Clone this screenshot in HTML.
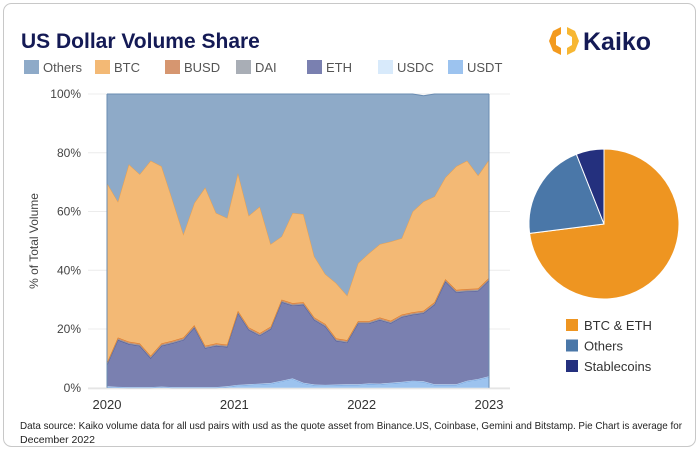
<!DOCTYPE html>
<html><head><meta charset="utf-8"><style>
body{margin:0;background:#fff;font-family:"Liberation Sans",sans-serif;}
#wrap{position:relative;width:700px;height:451px;overflow:hidden;}
</style></head><body>
<div id="wrap">
<svg id="svg" width="700" height="451" xmlns="http://www.w3.org/2000/svg">
<rect x="3.5" y="3.5" width="692" height="443" rx="8" fill="#fff" stroke="#c8c8c8" stroke-width="1"/>
<text x="21" y="48" font-size="21" font-weight="bold" fill="#141a55">US Dollar Volume Share</text>
<g>
<path d="M553 31 L561 27 L561 34 L556 37 L556 45 L561 48 L561 55 L553 51 L549 41 Z" fill="#f39a1e"/>
<path d="M567 27 L575 31 L579 41 L575 51 L567 55 L567 48 L572 45 L572 37 L567 34 Z" fill="#f7b733"/>
<text x="583" y="50" font-size="25" font-weight="bold" fill="#141a55">Kaiko</text>
</g>
<g id="legend"></g>
<g id="grid"></g>
<g id="areas"></g>
<g id="axes"></g>
<g id="pie"></g>
<text x="20" y="429" font-size="10.5" fill="#222" textLength="662" lengthAdjust="spacingAndGlyphs">Data source: Kaiko volume data for all usd pairs with usd as the quote asset from Binance.US, Coinbase, Gemini and Bitstamp. Pie Chart is average for</text>
<text x="20" y="443" font-size="10.5" fill="#222" textLength="75" lengthAdjust="spacingAndGlyphs">December 2022</text>
</svg>
</div>
<script>
const usdt=[0.3,0.1,0,0,0,0.2,0,0,0,0,0,0.3,0.8,1.0,1.2,1.4,2.2,3.0,1.5,0.9,0.8,0.9,1.0,1.0,1.3,1.2,1.5,1.8,2.2,2.0,1.0,1.0,1.0,2.2,2.8,3.7];
const usdc=[0.2,0.2,0.2,0.2,0.2,0.2,0.2,0.2,0.2,0.2,0.2,0.2,0.2,0.2,0.2,0.2,0.2,0.2,0.2,0.2,0.2,0.2,0.2,0.2,0.2,0.2,0.2,0.2,0.2,0.2,0.2,0.2,0.2,0.2,0.2,0.2];
const eth=[7.3,16.0,14.7,14.1,9.9,13.9,15.0,16.1,20.3,13.3,14.1,13.4,24.4,18.5,16.4,18.4,26.8,24.8,26.6,22.0,19.9,14.9,14.2,20.7,20.4,21.7,20.3,22.1,22.5,23.2,27.1,35.0,31.3,30.4,30.0,32.7];
const dai=[0.3,0.3,0.3,0.3,0.3,0.3,0.3,0.3,0.3,0.3,0.3,0.3,0.3,0.3,0.3,0.3,0.3,0.3,0.3,0.3,0.3,0.3,0.3,0.3,0.3,0.3,0.3,0.3,0.3,0.3,0.3,0.3,0.3,0.3,0.3,0.3];
const busd=[0.5,0.5,0.5,0.5,0.5,0.5,0.5,0.5,0.5,0.5,0.5,0.5,0.5,0.5,0.5,0.5,0.5,0.5,0.5,0.5,0.5,0.5,0.5,0.5,0.5,0.5,0.5,0.5,0.5,0.5,0.5,0.5,0.5,0.5,0.5,0.5];
const btc=[61.1,46.3,60.4,57.6,66.4,60.3,48.0,35.2,41.6,53.9,44.4,43.1,46.9,38.1,43.1,28.1,21.5,30.7,30.0,20.8,17.0,18.8,15.2,19.7,23.1,25.0,27.0,26.0,34.3,37.2,36.0,34.6,42.1,43.7,38.5,40.2];
const others=[30.3,36.6,23.9,27.3,22.7,24.6,36.0,47.7,37.1,31.8,40.5,42.2,26.9,41.4,38.3,51.1,48.5,40.5,40.9,55.3,61.3,64.4,68.6,57.6,54.2,51.1,50.2,49.1,40.0,36.0,34.9,28.4,24.6,22.7,27.7,22.4];
const yTicks=[0,20,40,60,80,100];
const xTickLabels=["2020","2021","2022","2023"];
const xTickIdx=[0,12,24,36];
const pieLabels=["BTC & ETH","Others","Stablecoins"];
const pieValues=[73,21,6];

const NS="http://www.w3.org/2000/svg";
function mk(tag,attrs,parent){const e=document.createElementNS(NS,tag);for(const k in attrs)e.setAttribute(k,attrs[k]);parent.appendChild(e);return e;}
const X0=107,X1=489,Y0=387.75,Y100=94;
const n=usdt.length;
const xs=i=>X0+(X1-X0)*i/(n-1);
const xt=i=>X0+(X1-X0)*i/36;
const ys=v=>Y0-(Y0-Y100)*v/100;

const grid=document.getElementById('grid'),axes=document.getElementById('axes'),areas=document.getElementById('areas');
yTicks.forEach(t=>{
 const l=mk('line',{x1:88,x2:510,y1:ys(t),y2:ys(t),stroke:'#ececec','stroke-width':1},grid);
 
 
 const tx=mk('text',{x:81,y:ys(t)+4,'font-size':12,'text-anchor':'end',fill:'#444'},axes);
 tx.textContent=t+'%';
 
 
});
const xa=mk('line',{x1:88,x2:510,y1:Y0+1,y2:Y0+1,stroke:'#e0e0e0'},axes);


xTickLabels.forEach((lab,k)=>{
 const tx=mk('text',{x:xt(xTickIdx[k]),y:409,'font-size':13,'text-anchor':'middle',fill:'#333'},axes);
 tx.textContent=lab;
 
 
});
const yt=mk('text',{x:0,y:0,'font-size':12,'text-anchor':'middle',fill:'#444',transform:'translate(38,241) rotate(-90)'},axes);
yt.textContent='% of Total Volume';



const series=[
 {name:'usdt',d:usdt,fill:'#9cc3ef',stroke:'#6f9fdc'},
 {name:'usdc',d:usdc,fill:'#d8eafb',stroke:'#b9d5f3'},
 {name:'eth',d:eth,fill:'#7a80b0',stroke:'#4f5596'},
 {name:'dai',d:dai,fill:'#a9aeb6',stroke:'#8a8f98'},
 {name:'busd',d:busd,fill:'#d69670',stroke:'#e07a20'},
 {name:'btc',d:btc,fill:'#f3b975',stroke:'#e9a04e'},
 {name:'others',d:others,fill:'#8eaac8',stroke:'#6a8cb2'}
];
let base=new Array(n).fill(0);
series.forEach(s=>{
 const top=base.map((b,i)=>b+s.d[i]);
 let p='M'+xs(0)+','+ys(top[0]);
 for(let i=1;i<n;i++)p+='L'+xs(i)+','+ys(top[i]);
 for(let i=n-1;i>=0;i--)p+='L'+xs(i)+','+ys(base[i]);
 p+='Z';
 const a=mk('path',{d:p,fill:s.fill,stroke:'none'},areas);
 
 
 let lp='M'+xs(0)+','+ys(top[0]);
 for(let i=1;i<n;i++)lp+='L'+xs(i)+','+ys(top[i]);
 const ln=mk('path',{d:lp,fill:'none',stroke:s.stroke,'stroke-width':1},areas);
 
 
 base=top;
});
const el=mk('line',{x1:X0,x2:X0,y1:Y100,y2:Y0,stroke:'#6a8cb2','stroke-width':1},areas);


const er=mk('line',{x1:X1,x2:X1,y1:Y100,y2:Y0,stroke:'#6a8cb2','stroke-width':1},areas);



const leg=document.getElementById('legend');
const legItems=[['Others','#8eaac8',24],['BTC','#f3b975',95],['BUSD','#d69670',165],['DAI','#a9aeb6',236],['ETH','#7a80b0',307],['USDC','#d8eafb',378],['USDT','#9cc3ef',448]];
legItems.forEach(it=>{
 const g=mk('g',{},leg);
 
 
 mk('rect',{x:it[2],y:60,width:15,height:14,fill:it[1]},g);
 const t=mk('text',{x:it[2]+19,y:72,'font-size':13,fill:'#555'},g);
 t.textContent=it[0];
});

const pie=document.getElementById('pie');
const cx=604,cy=224,r=75;
const pieColors=['#ee9521','#4a77a8','#24307e'];
const tot=pieValues.reduce((a,b)=>a+b,0);
let ang=0;
pieValues.forEach((v,k)=>{
 const a0=ang,a1=ang+v/tot*2*Math.PI;ang=a1;
 const x0=cx+r*Math.sin(a0),y0=cy-r*Math.cos(a0),x1=cx+r*Math.sin(a1),y1=cy-r*Math.cos(a1);
 const large=(a1-a0)>Math.PI?1:0;
 const s=mk('path',{d:`M${cx},${cy}L${x0},${y0}A${r},${r} 0 ${large} 1 ${x1},${y1}Z`,fill:pieColors[k],stroke:'#fff','stroke-width':1},pie);
 
 
 const g=mk('g',{},pie);
 
 
 mk('rect',{x:566,y:319+k*20.5,width:12,height:12,fill:pieColors[k]},g);
 const t=mk('text',{x:584,y:330+k*20.5,'font-size':13,fill:'#333'},g);
 t.textContent=pieLabels[k];
});
</script>
</body></html>
